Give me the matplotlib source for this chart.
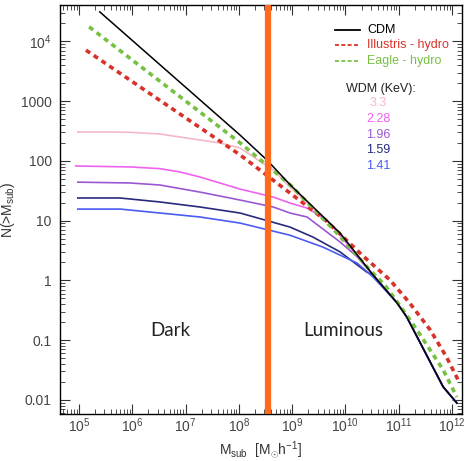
import numpy as np
import matplotlib
matplotlib.use('Agg')
import matplotlib.pyplot as plt
from matplotlib.ticker import FixedLocator, NullFormatter, LogLocator

plt.rcParams['font.family'] = ['Liberation Sans', 'DejaVu Sans']
plt.rcParams['mathtext.fontset'] = 'custom'
plt.rcParams['mathtext.rm'] = 'Liberation Sans'
plt.rcParams['mathtext.it'] = 'Liberation Sans:italic'

# cumulative subhalo mass functions, N(>M_sub) vs M_sub [Msun/h]
m_cdm = [2.45e5, 1.05e8, 3.4e8, 9.1e8, 7.9e9, 3.3e10, 9.3e10, 1.41e11, 6.8e11, 1.23e12]
n_cdm = [3.1e4, 270, 102, 40, 6.2, 1.23, 0.42, 0.245, 0.0166, 0.0089]

m_illustris = [1.35e5, 1.05e8, 4.2e9, 2.1e10, 6.8e10, 1.6e11, 3.9e11, 7.9e11, 1.4e12]
n_illustris = [7.1e3, 126, 10.2, 2.6, 1.02, 0.42, 0.148, 0.052, 0.019]

m_eagle = [1.55e5, 1.05e8, 9.1e8, 6.9e9, 2.9e10, 5.5e10, 1.2e11, 2.2e11, 6.8e11, 1.23e12]
n_eagle = [1.74e4, 200, 40, 6.2, 1.48, 0.83, 0.32, 0.148, 0.032, 0.0112]

# warm dark matter, low-mass part (at high mass they sit on top of CDM)
wdm_labels = ['3.3', '2.28', '1.96', '1.59', '1.41']
wdm_colors = ['#f5b8c8', '#ef62ef', '#9a58d2', '#272b7c', '#4a5cf2']
m_wdm = [
    [9.5e4, 3.8e5, 9.1e5, 3.3e6, 1.86e7, 4.4e7, 1.05e8, 4.4e8, 9.1e8],
    [8.7e4, 9.1e5, 3.3e6, 7.9e6, 1.86e7, 4.4e7, 1.05e8, 4.4e8, 9.1e8, 1.9e9, 4.5e9, 7.9e9],
    [9.5e4, 9.1e5, 3.3e6, 1.86e7, 1.05e8, 4.4e8, 9.1e8, 1.9e9, 7.9e9, 1.65e10],
    [9.5e4, 5.9e5, 3.3e6, 1.86e7, 1.05e8, 9.1e8, 2.46e9, 7.9e9, 2.5e10],
    [9.5e4, 5.9e5, 3.3e6, 1.86e7, 1.05e8, 9.1e8, 3.8e9, 1.65e10, 3.3e10],
]
n_wdm = [
    [303, 303, 300, 281, 223, 199, 164, 70, 36.5],
    [82, 79, 74, 65, 53.6, 42.6, 33.7, 24.8, 19.7, 16.2, 10.2, 5.7],
    [44, 42.6, 39.4, 30, 22.1, 16.9, 13.4, 11.5, 4.4, 2.5],
    [23.9, 23.9, 20.5, 16.9, 13.4, 7.8, 5.3, 3.0, 1.38],
    [15.6, 15.6, 13.4, 11.5, 9.1, 5.7, 3.6, 1.95, 1.14],
]

m_split = 3.55e8    # dark / luminous boundary

fig = plt.figure(figsize=(4.69, 4.61), dpi=100)
ax = fig.add_axes([0.128, 0.102, 0.857, 0.887])
ax.set_xscale('log')
ax.set_yscale('log')

for m, n, c in zip(m_wdm, n_wdm, wdm_colors):
    # above the last WDM point the curve follows CDM
    tail_m = [x for x in m_cdm if x > m[-1]]
    tail_n = [y for x, y in zip(m_cdm, n_cdm) if x > m[-1]]
    ax.plot(list(m) + tail_m, list(n) + tail_n, color=c, lw=1.2)

ax.plot(m_illustris, n_illustris, color='#d8332a', lw=2.6, dashes=(1.4, 1.2))
ax.plot(m_eagle, n_eagle, color='#78c043', lw=2.6, dashes=(1.4, 1.2))
ax.plot(m_cdm, n_cdm, color='black', lw=1.1)

ax.axvline(m_split, color='#ff6a1c', lw=4.5, zorder=5)

ax.set_xlim(10**4.644, 10**12.186)
ax.set_ylim(10**-2.234, 10**4.605)

ax.xaxis.set_major_locator(FixedLocator([10.0**k for k in range(5, 13)]))
ax.set_xticklabels([r'$10^{%d}$' % k for k in range(5, 13)])
ax.xaxis.set_minor_locator(LogLocator(base=10, subs=np.arange(2, 10), numticks=20))
ax.xaxis.set_minor_formatter(NullFormatter())

yt = [0.01, 0.1, 1, 10, 100, 1000, 1e4]
ax.yaxis.set_major_locator(FixedLocator(yt))
ax.set_yticklabels(['0.01', '0.1', '1', '10', '100', '1000', r'$10^4$'])
ax.yaxis.set_minor_locator(LogLocator(base=10, subs=np.arange(2, 10), numticks=20))
ax.yaxis.set_minor_formatter(NullFormatter())

ax.tick_params(which='both', direction='in', top=True, right=True,
               labelsize=10, labelcolor='#444444', color='#333333')
ax.tick_params(which='major', length=7, width=0.8)
ax.tick_params(which='minor', length=3.5, width=0.6)
ax.tick_params(axis='x', which='major', pad=2)
ax.tick_params(axis='y', which='major', pad=6)
for s in ax.spines.values():
    s.set_linewidth(1.0)

ax.set_xlabel(r'M$_{\rm sub}$  [M$_{\odot}$h$^{-1}$]', fontsize=10, color='#333333', labelpad=3)
ax.set_ylabel(r'N(>M$_{\rm sub}$)', fontsize=10, color='#333333', labelpad=3)

ax.text(0.275, 0.205, 'Dark', transform=ax.transAxes, ha='center', va='center',
        fontsize=13.5, family='Lato', color='#222222')
ax.text(0.705, 0.205, 'Luminous', transform=ax.transAxes, ha='center', va='center',
        fontsize=13.5, family='Lato', color='#222222')

# hand-built legend
lx0, lx1, tx = 335, 360, 367
rows = [('CDM', 'black', '-', 30), ('Illustris - hydro', '#d8332a', '--', 45),
        ('Eagle - hydro', '#78c043', '--', 61)]
W, H = 469, 461
for lab, c, ls, y in rows:
    fig.add_artist(plt.Line2D([lx0 / W, lx1 / W], [1 - y / H, 1 - y / H], color=c,
                              lw=1.3, ls=ls, dashes=(2.2, 1.3) if ls == '--' else (None, None)))
    fig.text(tx / W, 1 - y / H, lab, color=c, fontsize=9, va='center', ha='left')

fig.text(381 / W, 1 - 89 / H, 'WDM (KeV):', fontsize=9, ha='center', va='center', color='#222222')
for i, (lab, c) in enumerate(zip(wdm_labels, wdm_colors)):
    fig.text(378 / W, 1 - (103 + 15.8 * i) / H, lab, fontsize=9, ha='center', va='center', color=c)

fig.savefig('out.png', dpi=100)
